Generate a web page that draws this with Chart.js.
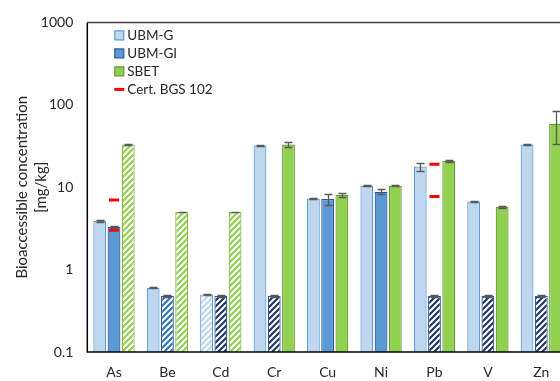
<!DOCTYPE html>
<html>
<head>
<meta charset="utf-8">
<script src="https://cdn.jsdelivr.net/npm/chart.js@4/dist/chart.umd.min.js"></script>
<style>
  html, body { margin: 0; padding: 0; background: #fff; overflow: hidden; }
  #wrap { position: relative; width: 560px; height: 381px; overflow: hidden; }
  canvas { position: absolute; left: 0; top: 0; }
</style>
</head>
<body>
<div id="wrap"><canvas id="chart" width="576" height="381"></canvas></div>
<script>
// Elements measured
const categories = ['As', 'Be', 'Cd', 'Cr', 'Cu', 'Ni', 'Pb', 'V', 'Zn'];

// Bioaccessible concentrations [mg/kg] and standard deviations
const ubmG      = [3.9, 0.60, 0.50, 32, 7.3, 10.4, 17.8, 6.7, 33];
const ubmGErr   = [0.12, 0.01, 0.01, 0.4, 0.12, 0.1, 1.9, 0.1, 0.4];
const ubmGI     = [3.3, 0.48, 0.48, 0.48, 7.2, 8.8, 0.48, 0.48, 0.48];
const ubmGIErr  = [0.12, 0.01, 0.01, 0.01, 1.1, 0.6, 0.01, 0.01, 0.01];
const sbet      = [33, 5.0, 5.0, 33, 8.1, 10.4, 20.8, 5.8, 59];
const sbetErr   = [0.4, 0.06, 0.06, 2.2, 0.45, 0.1, 0.4, 0.15, 26];

// Values below the limit of quantification (drawn hatched)
const ubmGBelow  = [false, false, true, false, false, false, false, false, false];
const ubmGIBelow = [false, true, true, true, false, false, true, true, true];
const sbetBelow  = [true, true, true, false, false, false, false, false, false];

// Certified values of BGS 102 (two per element where available)
const certHigh = [7.0, null, null, null, null, null, 19.0, null, null];
const certLow  = [3.0, null, null, null, null, null, 7.7, null, null];

const yTicks = [0.1, 1, 10, 100, 1000];

const FONT = 'Lato, "Liberation Sans", sans-serif';
const TEXT = '#262626';

function hatch(ink) {
  const s = 6;
  const c = document.createElement('canvas');
  c.width = s; c.height = s;
  const g = c.getContext('2d');
  g.fillStyle = '#fff';
  g.fillRect(0, 0, s, s);
  g.strokeStyle = ink;
  g.lineWidth = 2.2;
  g.beginPath();
  g.moveTo(-1, s + 1); g.lineTo(s + 1, -1);
  g.moveTo(-1, 1); g.lineTo(1, -1);
  g.moveTo(s - 1, s + 1); g.lineTo(s + 1, s - 1);
  g.stroke();
  return g.createPattern(c, 'repeat');
}

const ctx = document.getElementById('chart').getContext('2d');

const lightBlue = '#bdd7ee', lightBlueEdge = '#5b9bd5';
const midBlue = '#5b9bd5', midBlueEdge = '#2f5597';
const green = '#92d050', greenEdge = '#5f9a3a';

const hatchLight = hatch('#bdd7ee');
const hatchNavyBlue = hatch('#2e75b6');
const hatchNavy = hatch('#203864');
const hatchGreen = hatch('#92d050');

// hatch ink for each UBM-GI bar
const ubmGIHatchInk = [null, hatchNavyBlue, hatchNavy, hatchNavy, null, null, hatchNavy, hatchNavy, hatchNavy];

const errors = [ubmGErr, ubmGIErr, sbetErr];

const errorBars = {
  id: 'errorBars',
  afterDatasetsDraw(chart) {
    const y = chart.scales.y;
    const c = chart.ctx;
    c.save();
    c.strokeStyle = '#595959';
    c.lineWidth = 1.3;
    errors.forEach((err, di) => {
      const meta = chart.getDatasetMeta(di);
      const vals = chart.data.datasets[di].data;
      meta.data.forEach((bar, i) => {
        const v = vals[i];
        if (v == null || !err[i]) return;
        const yt = Math.round(y.getPixelForValue(v + err[i])) + 0.5;
        const yb = Math.round(y.getPixelForValue(Math.max(v - err[i], 0.1001))) + 0.5;
        const x = Math.round(bar.x) + 0.5;
        c.beginPath();
        c.moveTo(x, yt); c.lineTo(x, yb);
        c.moveTo(x - 4, yt); c.lineTo(x + 4, yt);
        c.moveTo(x - 4, yb); c.lineTo(x + 4, yb);
        c.stroke();
      });
    });
    c.restore();
  }
};

const frame = {
  id: 'frame',
  afterDraw(chart) {
    const a = chart.chartArea;
    const c = chart.ctx;
    c.save();
    c.lineWidth = 1.5;
    c.strokeStyle = '#404040';
    c.beginPath();
    c.moveTo(a.left, a.top); c.lineTo(a.right + 5, a.top);
    c.stroke();
    c.strokeStyle = '#000';
    c.beginPath();
    c.moveTo(a.left, a.top); c.lineTo(a.left, a.bottom); c.lineTo(a.right + 5, a.bottom);
    c.stroke();
    c.restore();
  }
};

// Legend drawn inside the plot area, top-left
const insideLegend = {
  id: 'insideLegend',
  afterDraw(chart) {
    const c = chart.ctx;
    const a = chart.chartArea;
    const x0 = a.left + 27, y0 = a.top + 13, step = 18;
    const items = chart.data.datasets.filter(d => !d.hideInLegend);
    c.save();
    c.font = '13.5px ' + FONT;
    c.textBaseline = 'middle';
    c.textAlign = 'left';
    items.forEach((d, k) => {
      const yc = y0 + k * step;
      if (d.type === 'line') {
        c.fillStyle = '#ff0000';
        c.fillRect(x0, yc - 1.5, 10, 3);
      } else {
        c.fillStyle = d.legendFill;
        c.fillRect(x0 + 0.5, yc - 4.5, 9, 9);
        c.strokeStyle = d.legendEdge;
        c.lineWidth = 1.2;
        c.strokeRect(x0 + 0.5, yc - 4.5, 9, 9);
      }
      c.fillStyle = TEXT;
      c.fillText(d.label, x0 + 13, yc + 0.5);
    });
    c.restore();
  }
};

new Chart(ctx, {
  type: 'bar',
  data: {
    labels: categories,
    datasets: [
      {
        label: 'UBM-G',
        data: ubmG,
        backgroundColor: ubmGBelow.map(b => b ? hatchLight : lightBlue),
        borderColor: lightBlueEdge,
        borderWidth: 1.2,
        legendFill: lightBlue, legendEdge: lightBlueEdge,
        order: 2
      },
      {
        label: 'UBM-GI',
        data: ubmGI,
        backgroundColor: ubmGIBelow.map((b, i) => b ? ubmGIHatchInk[i] : midBlue),
        borderColor: midBlueEdge,
        borderWidth: 1.2,
        legendFill: midBlue, legendEdge: midBlueEdge,
        order: 2
      },
      {
        label: 'SBET',
        data: sbet,
        backgroundColor: sbetBelow.map(b => b ? hatchGreen : green),
        borderColor: sbetBelow.map(b => b ? '#7dbb45' : greenEdge),
        borderWidth: 1.2,
        legendFill: green, legendEdge: greenEdge,
        order: 2
      },
      {
        type: 'line',
        label: 'Cert. BGS 102',
        data: certHigh,
        showLine: false,
        pointStyle: 'line',
        pointRadius: 5,
        pointBorderWidth: 3,
        borderColor: '#ff0000',
        backgroundColor: '#ff0000',
        order: 1
      },
      {
        type: 'line',
        label: 'Cert. BGS 102',
        data: certLow,
        hideInLegend: true,
        showLine: false,
        pointStyle: 'line',
        pointRadius: 5,
        pointBorderWidth: 3,
        borderColor: '#ff0000',
        backgroundColor: '#ff0000',
        order: 1
      }
    ]
  },
  options: {
    responsive: false,
    animation: false,
    devicePixelRatio: 1,
    layout: { padding: { left: 0, top: 19, right: 3, bottom: 0 } },
    plugins: {
      legend: { display: false },
      tooltip: { enabled: false }
    },
    scales: {
      x: {
        offset: true,
        categoryPercentage: 0.735,
        barPercentage: 0.85,
        grid: { display: false, drawTicks: false },
        border: { display: false },
        ticks: { color: TEXT, font: { family: FONT, size: 14 }, padding: 12, maxRotation: 0 },
        afterFit(s) { s.height = 29; }
      },
      y: {
        type: 'logarithmic',
        min: 0.1,
        max: 1000,
        grid: { display: false, drawTicks: false },
        border: { display: false },
        afterBuildTicks(s) { s.ticks = yTicks.map(v => ({ value: v })); },
        ticks: {
          color: TEXT,
          font: { family: FONT, size: 14 },
          padding: 14,
          callback: v => String(v)
        },
        title: {
          display: true,
          text: ['Bioaccessible concentration', '[mg/kg]'],
          color: TEXT,
          font: { family: FONT, size: 15, lineHeight: 1.27 },
          padding: { top: 12.5, bottom: 0 }
        },
        afterFit(s) { s.width = 87.3; }
      }
    }
  },
  plugins: [errorBars, frame, insideLegend]
});
</script>
</body>
</html>
